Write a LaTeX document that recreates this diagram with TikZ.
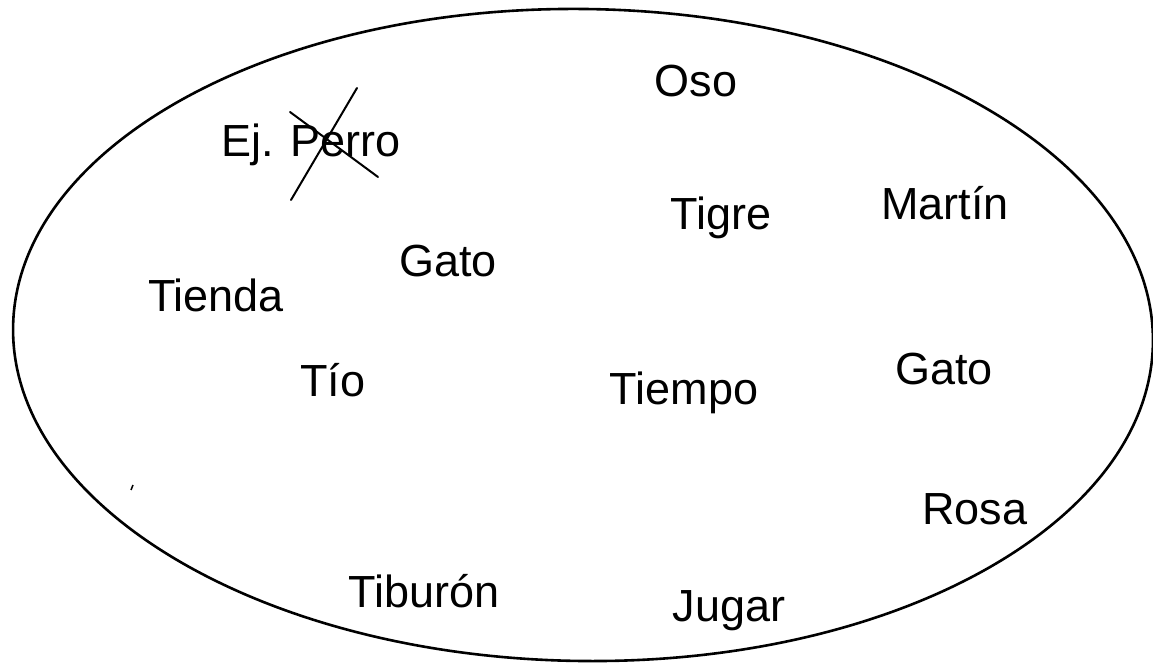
\documentclass[tikz,border=0pt]{standalone}
\usepackage{fontspec}
\setmainfont{Liberation Sans}
\begin{document}
\begin{tikzpicture}[x=1pt,y=1pt,
  word/.style={anchor=base,inner sep=0pt,font=\fontsize{45}{50}\selectfont},
  strike/.style={line width=2pt,line cap=round},
  outline/.style={line width=2.6pt}]
\useasboundingbox (0,0) rectangle (1153,663);
\fill[white] (0,0) rectangle (1153,663);
% ellipse (image y flipped: Y = 663 - y)
\draw[outline,rotate around={-0.8:(583,328)}] (583,328) ellipse [x radius=570,y radius=326];
% words (x = centre, y = baseline)
\node[word] (oso) at (696,566) {Oso};
\node[word] (perro) at (311,506) {Ej. Perro};
\node[word] (tigre) at (721,433) {Tigre};
\node[word] (martin) at (945,443) {Martín};
\node[word] (gato1) at (448,386) {Gato};
\node[word] (tienda) at (216,351) {Tienda};
\node[word] (tio) at (333,266) {Tío};
\node[word] (tiempo) at (684,258) {Tiempo};
\node[word] (gato2) at (944,278) {Gato};
\node[word] (rosa) at (975,138) {Rosa};
\node[word] (tiburon) at (424,55) {Tiburón};
\node[word] (jugar) at (729,41) {Jugar};
% cross over "Perro"
\coordinate (c1a) at (290,551);
\coordinate (c1b) at (378,486);
\coordinate (c2a) at (357,575);
\coordinate (c2b) at (291,463);
\draw[strike] (c1a) -- (c1b);
\draw[strike] (c2a) -- (c2b);
% small stray mark
\coordinate (m1) at (131,173);
\coordinate (m2) at (133,178);
\draw[line width=1.5pt] (m1) -- (m2);
\end{tikzpicture}
\end{document}
